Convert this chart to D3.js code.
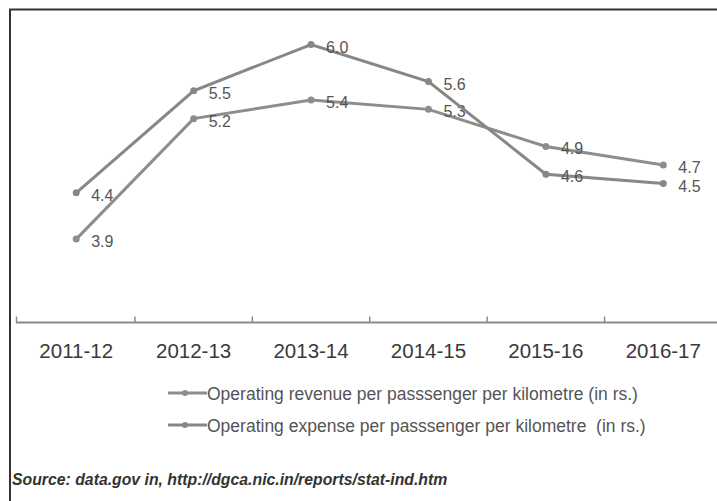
<!DOCTYPE html>
<html>
<head>
<meta charset="utf-8">
<script src="https://cdn.jsdelivr.net/npm/d3@7"></script>
<style>
  html, body { margin: 0; padding: 0; background: #fff; }
  svg { display: block; font-family: "Liberation Sans", Arial, sans-serif; }
  .legend-text { white-space: pre; }
</style>
</head>
<body>
<svg id="chart" width="717" height="501"></svg>
<script>
// Fiscal years on the x axis
const years = ["2011-12", "2012-13", "2013-14", "2014-15", "2015-16", "2016-17"];
// Rupees per passenger-kilometre
const revenue = [3.9, 5.2, 5.4, 5.3, 4.9, 4.7];
const expense = [4.4, 5.5, 6.0, 5.6, 4.6, 4.5];
const legendLabels = [
  "Operating revenue per passsenger per kilometre (in rs.)",
  "Operating expense per passsenger per kilometre  (in rs.)"
];
const sourceNote = "Source: data.gov in, http://dgca.nic.in/reports/stat-ind.htm";

const svg = d3.select("#chart");

const series = [
  { name: legendLabels[0], values: revenue, color: "#8d8d8d" },
  { name: legendLabels[1], values: expense, color: "#878787" }
];

const x = d3.scaleBand().domain(years).range([17.5, 722]);
const y = d3.scaleLinear().domain([3, 6]).range([322.5, 44.5]);
const cx = d => x(d) + x.bandwidth() / 2;

// frame: top and left rules
svg.append("line").attr("x1", 9).attr("x2", 717).attr("y1", 9.5).attr("y2", 9.5)
  .attr("stroke", "#333").attr("stroke-width", 2);
svg.append("line").attr("x1", 10).attr("x2", 10).attr("y1", 9).attr("y2", 501)
  .attr("stroke", "#333").attr("stroke-width", 2);

// category axis
const axis = svg.append("g").attr("transform", "translate(0,322.5)");
axis.append("line").attr("x1", 16).attr("x2", 717).attr("stroke", "#8a8a8a").attr("stroke-width", 2);
axis.append("line").attr("x1", 16.5).attr("x2", 16.5).attr("y1", -6).attr("y2", 0)
  .attr("stroke", "#8a8a8a").attr("stroke-width", 1.5);
axis.selectAll(".tick").data(years.slice(1)).join("line")
  .attr("x1", d => x(d)).attr("x2", d => x(d)).attr("y1", -6).attr("y2", 0)
  .attr("stroke", "#8a8a8a").attr("stroke-width", 1.5);
axis.selectAll(".lbl").data(years).join("text")
  .attr("x", d => cx(d)).attr("y", 35)
  .attr("text-anchor", "middle").attr("font-size", 20.5).attr("fill", "#3a3a3a")
  .text(d => d);

// lines, markers, value labels
const line = d3.line().x((d, i) => cx(years[i])).y(d => y(d));
series.forEach(s => {
  const g = svg.append("g");
  g.append("path").attr("d", line(s.values)).attr("fill", "none")
    .attr("stroke", s.color).attr("stroke-width", 3);
  g.selectAll("circle").data(s.values).join("circle")
    .attr("cx", (d, i) => cx(years[i])).attr("cy", d => y(d)).attr("r", 3.5)
    .attr("fill", s.color);
  g.selectAll("text").data(s.values).join("text")
    .attr("x", (d, i) => cx(years[i]) + 15).attr("y", d => y(d) + 8)
    .attr("font-size", 16).attr("fill", "#555")
    .text(d => d.toFixed(1));
});

// legend
const legend = svg.append("g");
series.forEach((s, i) => {
  const ly = 393 + i * 32;
  legend.append("line").attr("x1", 168).attr("x2", 207).attr("y1", ly).attr("y2", ly)
    .attr("stroke", s.color).attr("stroke-width", 3);
  legend.append("circle").attr("cx", 185).attr("cy", ly).attr("r", 3).attr("fill", s.color);
  legend.append("text").attr("class", "legend-text").attr("x", 207).attr("y", ly + 6.5)
    .attr("font-size", 17.5).attr("fill", "#555").text(s.name);
});

// source note
svg.append("text").attr("x", 12).attr("y", 485)
  .attr("font-size", 15.8).attr("font-weight", "bold").attr("font-style", "italic")
  .attr("fill", "#333").text(sourceNote);
</script>
</body>
</html>
